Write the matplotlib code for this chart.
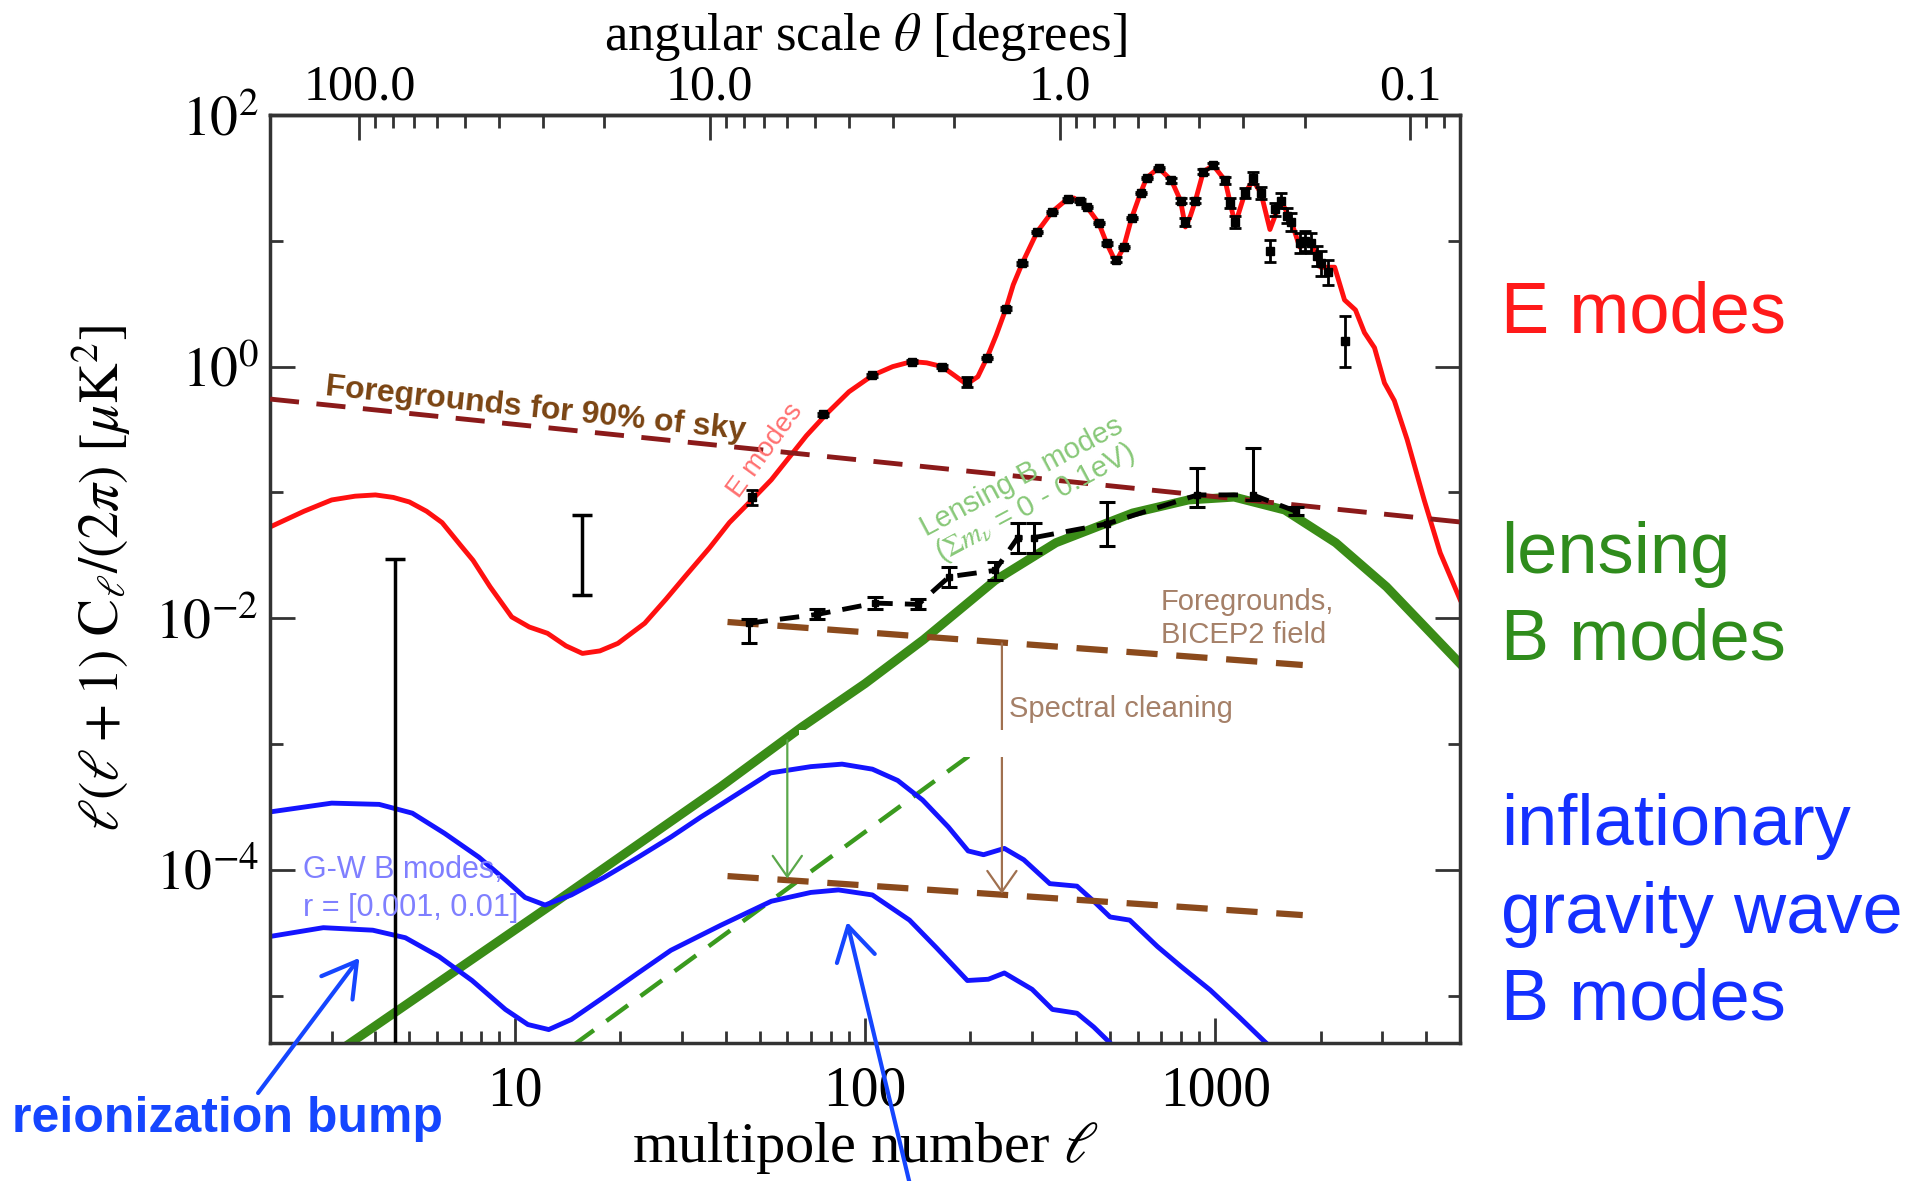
import matplotlib
matplotlib.use('Agg')
import numpy as np
import matplotlib.pyplot as plt
from matplotlib.ticker import FixedLocator, FixedFormatter, LogLocator, NullFormatter, FuncFormatter
from matplotlib.patches import Rectangle

plt.rcParams['font.family'] = ['Liberation Serif', 'DejaVu Serif']
plt.rcParams['mathtext.fontset'] = 'stix'
SANS = ['Liberation Sans', 'DejaVu Sans']

# ------------------------------------------------------------------
# values: multipole ell and log10 of l(l+1)C_l/2pi [uK^2]
# ------------------------------------------------------------------
# E-mode theory curve
ee_ell = [2.0, 2.5, 3.0, 3.5, 4.0, 4.5, 5.0, 5.6, 6.2, 7.0,
          7.6, 8.5, 9.8, 11.0, 12.4, 14.0, 15.6, 17.5, 19.7, 23.5,
          27.0, 30.6, 36.0, 41.0, 47.5, 54.0, 60.0, 68.0, 78.0, 90.0,
          105.0, 120.0, 136.0, 150.0, 166.0, 180.0, 195.0, 210.0, 223.0, 237.0,
          253.0, 265.0, 281.0, 310.0, 342.0, 370.0, 395.0, 430.0, 465.0, 490.0,
          520.0, 548.0, 577.0, 612.0, 637.0, 689.0, 750.0, 796.0, 822.0, 850.0,
          878.0, 925.0, 987.0, 1067.0, 1140.0, 1216.0, 1282.0, 1351.0, 1433.0, 1540.0,
          1644.0, 1743.0, 1874.0, 2000.0, 2193.0, 2340.0, 2515.0, 2668.0, 2850.0, 3043.0,
          3246.0, 3532.0, 3950.0, 4390.0, 5000.0]
ee_log = [-1.275, -1.15, -1.06, -1.03, -1.02, -1.04, -1.076, -1.15, -1.24, -1.42,
          -1.54, -1.75, -1.99, -2.07, -2.12, -2.22, -2.28, -2.26, -2.20, -2.04,
          -1.85, -1.67, -1.44, -1.24, -1.06, -0.90, -0.74, -0.55, -0.37, -0.20,
          -0.07, 0.00, 0.04, 0.03, 0.00, -0.07, -0.14, -0.08, 0.07, 0.25,
          0.466, 0.65, 0.82, 1.07, 1.23, 1.31, 1.34, 1.27, 1.14, 0.98,
          0.83, 0.95, 1.18, 1.38, 1.50, 1.58, 1.48, 1.32, 1.11, 1.20,
          1.32, 1.55, 1.60, 1.48, 1.13, 1.38, 1.48, 1.38, 1.09, 1.32,
          1.165, 0.95, 1.00, 0.79, 0.79, 0.53, 0.45, 0.27, 0.15, -0.13,
          -0.27, -0.58, -1.06, -1.48, -1.85]

# E-mode measurements (value and half-width of the error bar, both in dex)
ee_pt_ell = [47.5, 76, 105, 136, 166, 195, 223, 253, 281, 310,
             342, 380, 410, 430, 465, 490, 520, 548, 577, 612,
             637, 689, 750, 796, 822, 878, 925, 987, 1067, 1100,
             1140, 1216, 1282, 1351, 1433, 1480, 1540, 1600, 1644, 1743,
             1800, 1874, 1950, 2000, 2100, 2340]
ee_pt_log = [-1.04, -0.38, -0.07, 0.04, 0.0, -0.12, 0.07, 0.46, 0.82, 1.07,
             1.23, 1.33, 1.32, 1.27, 1.14, 0.98, 0.85, 0.95, 1.18, 1.38,
             1.50, 1.58, 1.48, 1.32, 1.15, 1.32, 1.55, 1.60, 1.48, 1.30,
             1.15, 1.38, 1.50, 1.38, 0.92, 1.25, 1.32, 1.20, 1.15, 0.98,
             1.0, 0.98, 0.88, 0.82, 0.75, 0.20]
ee_pt_err = [0.06, 0.01, 0.01, 0.01, 0.01, 0.04, 0.01, 0.01, 0.01, 0.01,
             0.01, 0.01, 0.01, 0.01, 0.01, 0.01, 0.02, 0.01, 0.01, 0.01,
             0.01, 0.01, 0.02, 0.02, 0.03, 0.02, 0.02, 0.02, 0.03, 0.04,
             0.05, 0.04, 0.05, 0.05, 0.09, 0.05, 0.06, 0.06, 0.07, 0.08,
             0.08, 0.08, 0.08, 0.10, 0.10, 0.20]

# lensing B-mode theory (solid) and delensed residual (dashed)
lens_ell = [3.3, 12.7, 38.7, 66, 100, 147, 235, 351, 581, 838, 1132, 1580, 2208, 3083, 5000]
lens_log = [-5.40, -4.28, -3.34, -2.865, -2.52, -2.17, -1.70, -1.40, -1.164, -1.06,
            -1.037, -1.14, -1.40, -1.75, -2.36]
delens_ell = [14.6, 197, 235]
delens_log = [-5.40, -3.10, -2.94]

# lensing B-mode measurements
bb_ell = [46.5, 73, 107, 142, 174, 235, 273, 303, 490, 890, 1280, 1700]
bb_log = [-2.04, -1.97, -1.88, -1.89, -1.67, -1.62, -1.36, -1.36, -1.25, -1.02, -1.02, -1.15]
bb_lo = [-2.20, -2.01, -1.93, -1.93, -1.75, -1.70, -1.48, -1.48, -1.43, -1.12, -1.06, -1.18]
bb_hi = [-2.01, -1.93, -1.83, -1.85, -1.59, -1.55, -1.24, -1.24, -1.08, -0.81, -0.65, -1.12]

# two lone low-ell error bars (ell, lower, upper)
lone_ell = [4.56, 15.6]
lone_lo = [-6.0, -1.816]
lone_hi = [-1.53, -1.18]

# gravity-wave B modes, r = 0.01 and r = 0.001
gw_hi_ell = [2.0, 3.0, 4.1, 5.1, 6.3, 7.9, 9.4, 10.7, 12.2, 14.5,
             18.0, 22.5, 27.9, 34.0, 38.8, 53.7, 70.0, 86.0, 105.0, 124.0,
             146.0, 173.0, 197.0, 218.0, 250.0, 284.0, 337.0, 403.0, 450.0, 501.0,
             570.0, 684.0, 800.0, 967.0, 1170.0, 1450.0]
gw_hi_log = [-3.54, -3.47, -3.48, -3.55, -3.71, -3.90, -4.08, -4.22, -4.28, -4.20,
             -4.06, -3.90, -3.74, -3.58, -3.48, -3.23, -3.18, -3.16, -3.20, -3.29,
             -3.445, -3.66, -3.85, -3.88, -3.83, -3.92, -4.11, -4.13, -4.25, -4.375,
             -4.40, -4.61, -4.77, -4.955, -5.17, -5.42]
gw_lo_ell = [2.0, 2.84, 3.93, 4.87, 6.08, 7.55, 9.4, 10.9, 12.5, 14.5,
             18.0, 22.5, 27.9, 34.0, 38.8, 54.0, 70.0, 84.0, 105.0, 134.0,
             160.0, 196.0, 225.0, 250.0, 300.0, 343.0, 403.0, 450.0, 520.0]
gw_lo_log = [-4.53, -4.46, -4.48, -4.54, -4.69, -4.88, -5.11, -5.23, -5.27, -5.19,
             -5.01, -4.82, -4.64, -4.52, -4.44, -4.25, -4.18, -4.16, -4.20, -4.40,
             -4.62, -4.88, -4.87, -4.82, -4.95, -5.11, -5.14, -5.25, -5.42]

# foreground power laws
fg90_ell = [2, 5000]
fg90_log = [-0.258, -1.235]
fgb2_ell = [40.5, 1778]
fgb2_log = [-2.03, -2.372]
fgcl_log = [-4.05, -4.36]

# top axis
theta_ticks = [100.0, 10.0, 1.0, 0.1]
theta_labels = ['100.0', '10.0', '1.0', '0.1']


def dex(a):
    return 10.0 ** np.asarray(a, dtype=float)


def ell_to_theta(x):
    x = np.asarray(x, dtype=float)
    with np.errstate(divide='ignore'):
        return 360.0 / x


fig = plt.figure(figsize=(19.13, 11.81), dpi=100)
ax = fig.add_axes([270 / 1913, 1 - 1043 / 1181, 1190 / 1913, 928 / 1181])
ax.set_xscale('log')
ax.set_yscale('log')
ax.set_xlim(2, 5000)
ax.set_ylim(4.2e-6, 100)

# foregrounds
ax.plot(fg90_ell, dex(fg90_log), color='#8b1a1a', lw=3.5, dashes=(6, 3.6), zorder=3)
ax.plot(fgb2_ell, dex(fgb2_log), color='#8b4a1c', lw=4.5, dashes=(5, 3), zorder=3)
ax.plot(fgb2_ell, dex(fgcl_log), color='#8b4a1c', lw=4.5, dashes=(5, 3), zorder=3)

# theory spectra
ax.plot(ee_ell, dex(ee_log), color='#ff1010', lw=3.5, zorder=2)
ax.plot(lens_ell, dex(lens_log), color='#3a8c17', lw=6.5, zorder=2)
ax.plot(delens_ell, dex(delens_log), color='#3a9a1e', lw=3.2, dashes=(6, 3.5), zorder=2)
ax.plot(gw_hi_ell, dex(gw_hi_log), color='#1414ff', lw=3.5, zorder=2)
ax.plot(gw_lo_ell, dex(gw_lo_log), color='#1414ff', lw=3.5, zorder=2)

# data points
v = dex(ee_pt_log)
lo = dex(np.array(ee_pt_log) - np.array(ee_pt_err))
hi = dex(np.array(ee_pt_log) + np.array(ee_pt_err))
ax.errorbar(ee_pt_ell, v, yerr=[v - lo, hi - v], fmt='s', ms=5.5, color='k',
            elinewidth=2, capsize=4, capthick=2, zorder=4)

ax.plot(bb_ell, dex(bb_log), color='k', lw=3.5, dashes=(4, 2.5), zorder=4)
v = dex(bb_log)
ax.errorbar(bb_ell, v, yerr=[v - dex(bb_lo), dex(bb_hi) - v], fmt='s', ms=5, color='k',
            elinewidth=2.2, capsize=6, capthick=2.2, zorder=4)

mid = np.sqrt(dex(lone_lo) * dex(lone_hi))
ax.errorbar(lone_ell, mid, yerr=[mid - dex(lone_lo), dex(lone_hi) - mid], fmt='none',
            ecolor='k', elinewidth=2.5, capsize=7, capthick=2.5, zorder=4)

# arrows for foreground removal
ax.annotate('', xy=(60, 10 ** -4.07), xytext=(60, 10 ** -2.97),
            arrowprops=dict(arrowstyle='->,head_length=0.5,head_width=0.35', color='#5aa84a',
                            lw=1.6, mutation_scale=30, shrinkA=0, shrinkB=0), zorder=4)
ax.annotate('', xy=(246, 10 ** -4.19), xytext=(246, 10 ** -2.20),
            arrowprops=dict(arrowstyle='->,head_length=0.5,head_width=0.35', color='#a0704f',
                            lw=1.6, mutation_scale=30, shrinkA=0, shrinkB=0), zorder=4)

# blank patch present in the original image
ax.add_patch(Rectangle((64.6, 10 ** -3.103), 252 - 64.6, 10 ** -2.889 - 10 ** -3.103,
                       facecolor='white', edgecolor='none', zorder=5))

# in-plot labels
ax.text(11.5, 10 ** -0.337, 'Foregrounds for 90% of sky', rotation=-6, color='#7a4412',
        fontsize=23, fontweight='bold', family=SANS, ha='center', va='center',
        rotation_mode='anchor', zorder=6)
ax.text(52, 10 ** -0.67, 'E modes', rotation=54, color='#ff7070', fontsize=20, family=SANS,
        ha='center', va='center', rotation_mode='anchor', zorder=6)
ax.text(294, 10 ** -0.989, 'Lensing B modes\n($\\Sigma m_\\nu$ = 0 - 0.1eV)', rotation=28,
        color='#88c878', fontsize=21, family=SANS, ha='center', va='center',
        rotation_mode='anchor', linespacing=1.0, zorder=6)
ax.text(698, 10 ** -1.935, 'Foregrounds,', color='#a58068', fontsize=21, family=SANS,
        ha='left', va='baseline', zorder=6)
ax.text(698, 10 ** -2.197, 'BICEP2 field', color='#a58068', fontsize=21, family=SANS,
        ha='left', va='baseline', zorder=6)
ax.text(258, 10 ** -2.785, 'Spectral cleaning', color='#a58068', fontsize=21, family=SANS,
        ha='left', va='baseline', zorder=6)
ax.text(2.48, 10 ** -4.0, 'G-W B modes,', color='#7f7fff', fontsize=22, family=SANS,
        ha='left', va='center', zorder=6)
ax.text(2.48, 10 ** -4.30, 'r = [0.001, 0.01]', color='#7f7fff', fontsize=22, family=SANS,
        ha='left', va='center', zorder=6)

# blue pointer arrows reaching outside the axes
blue_arrow = dict(arrowstyle='->,head_length=0.6,head_width=0.35', color='#1546ff', lw=3,
                  mutation_scale=40, shrinkA=0, shrinkB=0)
ax.annotate('', xy=(3.6, 10 ** -4.70), xytext=(0.1349, 0.0745), textcoords='figure fraction',
            arrowprops=blue_arrow, annotation_clip=False, zorder=6)
ax.annotate('', xy=(88.9, 10 ** -4.415), xytext=(0.4767, -0.01), textcoords='figure fraction',
            arrowprops=blue_arrow, annotation_clip=False, zorder=6)

# axes styling
spine_col = '#333333'
for s in ax.spines.values():
    s.set_linewidth(2.5)
    s.set_color(spine_col)

ax.xaxis.set_major_locator(FixedLocator([10, 100, 1000]))
ax.xaxis.set_major_formatter(FuncFormatter(lambda x, p: '%d' % round(x)))
ax.xaxis.set_minor_locator(LogLocator(base=10, subs=np.arange(2, 10)))
ax.xaxis.set_minor_formatter(NullFormatter())
ax.yaxis.set_major_locator(FixedLocator(dex([2, 0, -2, -4])))
ax.yaxis.set_major_formatter(FuncFormatter(lambda y, p: r'$10^{%d}$' % round(np.log10(y))))
ax.yaxis.set_minor_locator(FixedLocator(dex([1, -1, -3, -5])))
ax.yaxis.set_minor_formatter(NullFormatter())

ax.tick_params(axis='both', which='major', direction='in', length=18, width=2,
               color=spine_col, labelsize=40)
ax.tick_params(axis='both', which='minor', direction='in', length=9, width=2, color=spine_col)
ax.tick_params(axis='x', which='both', top=False, pad=16)
ax.tick_params(axis='y', which='both', right=True, pad=8)

ax.set_xlabel(r'multipole number $\ell$', fontsize=42, labelpad=2)
ax.set_ylabel(r'$\ell(\ell+1)\ \mathrm{C}_\ell/(2\pi)\ [\mu\mathrm{K}^2]$', fontsize=40)
ax.yaxis.set_label_coords(-0.115, 0.5)

secax = ax.secondary_xaxis('top', functions=(ell_to_theta, ell_to_theta))
secax.xaxis.set_major_locator(FixedLocator(theta_ticks))
secax.xaxis.set_major_formatter(FixedFormatter(theta_labels))
secax.xaxis.set_minor_locator(LogLocator(base=10, subs=np.arange(2, 10)))
secax.xaxis.set_minor_formatter(NullFormatter())
secax.tick_params(which='major', direction='in', length=18, width=2, color=spine_col,
                  labelsize=36, pad=3)
secax.tick_params(which='minor', direction='in', length=9, width=2, color=spine_col)
secax.spines['top'].set_linewidth(2.5)
secax.spines['top'].set_color(spine_col)
secax.set_xlabel(r'angular scale $\theta$ [degrees]', fontsize=38, labelpad=10)

# legend-like labels on the right
right_x = 1501 / 1913
fig.text(right_x, 1 - 332 / 1181, 'E modes', color='#ff1a1a', fontsize=52, family=SANS,
         va='baseline')
fig.text(right_x, 1 - 573 / 1181, 'lensing', color='#2f8c1c', fontsize=52, family=SANS,
         va='baseline')
fig.text(right_x, 1 - 659 / 1181, 'B modes', color='#2f8c1c', fontsize=52, family=SANS,
         va='baseline')
fig.text(right_x, 1 - 845 / 1181, 'inflationary', color='#1430ff', fontsize=52, family=SANS,
         va='baseline')
fig.text(right_x, 1 - 933 / 1181, 'gravity wave', color='#1430ff', fontsize=52, family=SANS,
         va='baseline')
fig.text(right_x, 1 - 1020 / 1181, 'B modes', color='#1430ff', fontsize=52, family=SANS,
         va='baseline')
fig.text(12 / 1913, 1 - 1132 / 1181, 'reionization bump', color='#1546ff', fontsize=36,
         fontweight='bold', family=SANS, va='baseline')

fig.savefig('out.png', dpi=100)
